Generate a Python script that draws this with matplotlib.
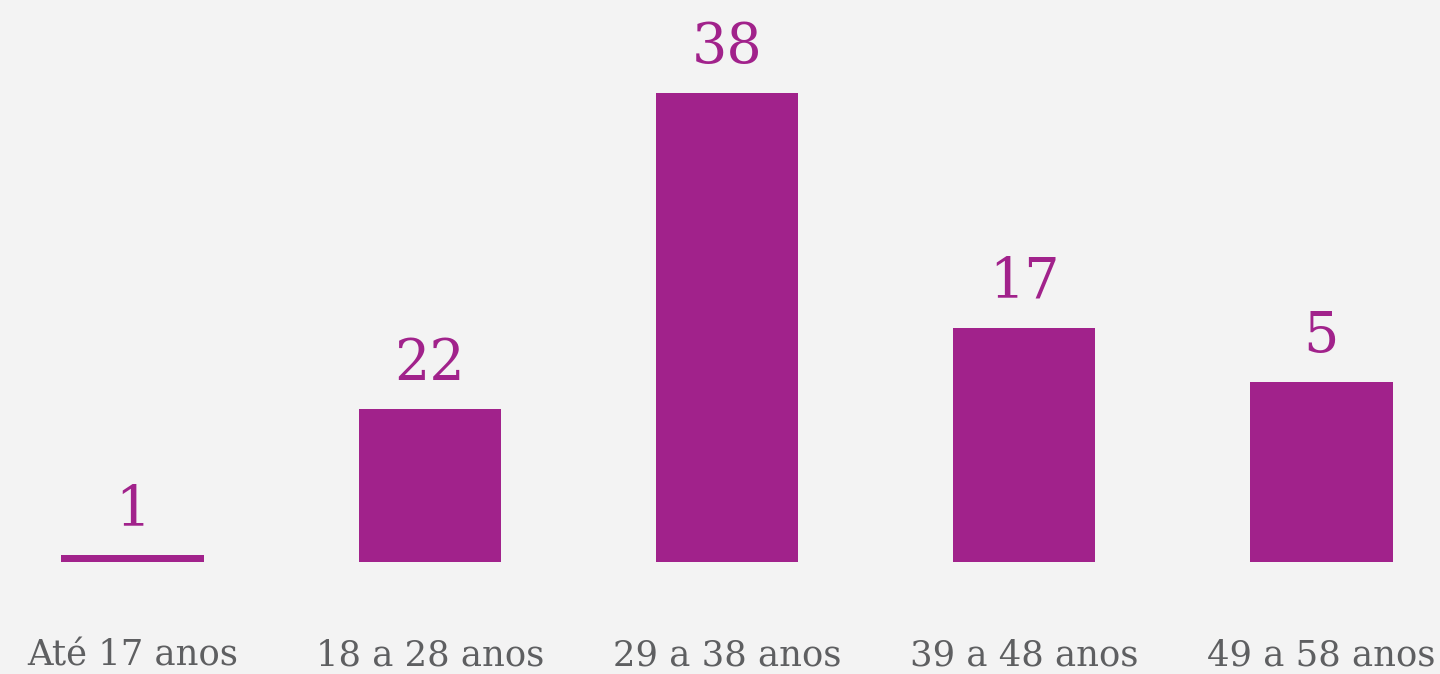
import numpy as np
import matplotlib.pyplot as plt

# age groups and counts shown above the bars
categories = ["Até 17 anos", "18 a 28 anos", "29 a 38 anos", "39 a 48 anos", "49 a 58 anos"]
counts = [1, 22, 38, 17, 5]
# bar lengths as drawn in the source (not proportional to the counts)
bar_heights = [0.53, 12.4, 38, 19.0, 14.6]

PURPLE = "#a1228b"
GRAY = "#5e5f61"
BG = "#f3f3f3"

fig = plt.figure(figsize=(14.4, 6.74), dpi=100, facecolor=BG)
ax = fig.add_axes([0, (674 - 562) / 674, 1, 562 / 674])
ax.set_facecolor(BG)

x = np.arange(len(categories))
ax.bar(x, bar_heights, width=0.48, color=PURPLE)

for xi, h, c in zip(x, bar_heights, counts):
    ax.annotate(str(c), (xi, h), xytext=(0, 21.5), textcoords="offset points",
                ha="center", va="baseline", fontsize=40, color=PURPLE,
                family="DejaVu Serif")

# category names along the bottom edge
for xi, lab in zip(x, categories):
    ax.text(xi, -111 / 562, lab, transform=ax.get_xaxis_transform(),
            ha="center", va="bottom", fontsize=25.5, color=GRAY,
            family="DejaVu Serif")

ax.set_xticks([])
ax.set_yticks([])
for s in ax.spines.values():
    s.set_visible(False)

ax.set_xlim(-132.8 / 297.1, (1440 - 132.8) / 297.1)
ax.set_ylim(0, 562 / (469 / 38))

fig.savefig("out.png", dpi=100, facecolor=BG)
